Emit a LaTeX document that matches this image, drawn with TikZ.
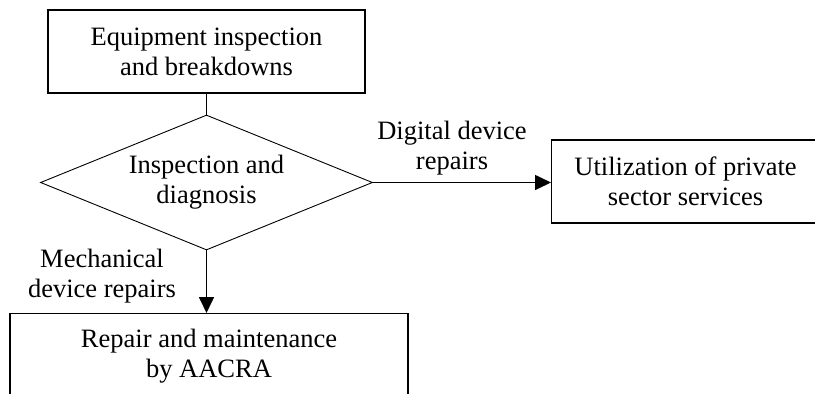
\documentclass[tikz,border=0pt]{standalone}
\usepackage{fontspec}
\setmainfont{Liberation Serif}
\usetikzlibrary{shapes.geometric,arrows.meta}
\begin{document}
\begin{tikzpicture}[x=1pt,y=-1pt,
  every node/.style={font=\fontsize{26.5}{30}\selectfont, align=center, inner sep=0pt},
  box/.style={draw, line width=1.1pt},
  dec/.style={draw, diamond, line width=0.9pt, minimum width=332pt, minimum height=135pt},
  conn/.style={line width=1.7pt},
  arr/.style={conn, -{Triangle[length=16pt,width=15pt]}},
  lbl/.style={}]
\useasboundingbox (0,0) rectangle (815,394);
\node[box, minimum width=317pt, minimum height=83pt] (top) at (206.5,51.5) {Equipment inspection\\and breakdowns};
\node[dec] (diag) at (206.5,182.5) {};
\node (diagtext) at (diag.center) {Inspection and\\diagnosis};
\node[box, minimum width=280pt, minimum height=83pt, anchor=west] (priv) at (551,181.5) {\hspace*{-12pt}Utilization of private\\\hspace*{-12pt}sector services};
\node[box, minimum width=398pt, minimum height=86pt, anchor=north] (aacra) at (209,313) {Repair and maintenance\\by AACRA};
\draw[conn] (top.south) -- (diag.north);
\draw[arr] (diag.east) -- (priv.west |- diag.east);
\draw[arr] (diag.south) -- (diag.south |- aacra.north);
\node[lbl] (dlab) at (452,148) {Digital device\\repairs};
\node[lbl] (mlab) at (102,276) {Mechanical\\device repairs};
\end{tikzpicture}
\end{document}
